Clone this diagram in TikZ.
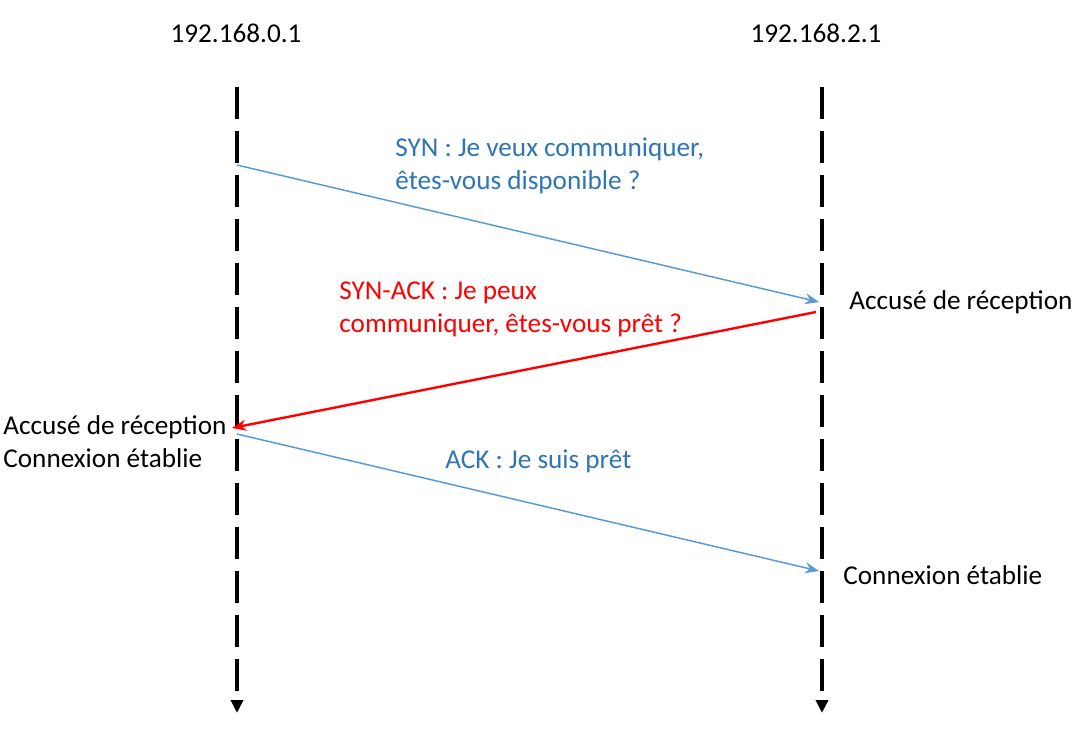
\documentclass[tikz,border=0pt]{standalone}
\usepackage{fontspec}
\setmainfont{Carlito}
\usetikzlibrary{arrows.meta}

\begin{document}
\begin{tikzpicture}[
  x=0.5pt,y=-0.5pt,
  font=\fontsize{13.6}{16.5}\selectfont,
  host/.style={inner sep=0pt},
  lbl/.style={inner sep=0pt,anchor=west,align=left},
  lifeline/.style={line width=2pt,dash pattern=on 16pt off 6pt,
                   -{Triangle[length=6.5pt,width=6pt]}},
  msg/.style={line width=0.75pt,draw=synblue,-{Stealth[length=7pt,width=5.5pt]}},
  back/.style={msg,draw=red,line width=1.2pt},
]
\definecolor{synblue}{HTML}{5B9BD5}
\definecolor{synfont}{HTML}{2E75B6}
\useasboundingbox (0,0) rectangle (1084,735);

% ===== hosts and lifelines =====
\node[host] (cli) at (236,33) {192.168.0.1};
\node[host] (srv) at (816,33) {192.168.2.1};
\coordinate (clitop) at (237,87);  \coordinate (clibot) at (237,713);
\coordinate (srvtop) at (822,87);  \coordinate (srvbot) at (822,713);
\draw[lifeline] (clitop) -- (clibot);
\draw[lifeline] (srvtop) -- (srvbot);

% ===== handshake =====
\coordinate (syn0) at (237,165);  \coordinate (syn1) at (819,302);
\coordinate (sa0) at (816,312);   \coordinate (sa1) at (232,428);
\coordinate (ack0) at (237,434);  \coordinate (ack1) at (819,571);
\draw[msg] (syn0) -- (syn1);
\draw[back] (sa0) -- (sa1);
\draw[msg] (ack0) -- (ack1);

\node[lbl,text=synfont] (synlbl) at (395,166) {SYN : Je veux communiquer,\\êtes-vous disponible ?};
\node[lbl,text=red] (salbl) at (339,309) {SYN-ACK : Je peux\\communiquer, êtes-vous prêt ?};
\node[lbl,text=synfont] (acklbl) at (445,461) {ACK : Je suis prêt};

% states
\node[lbl] (srvrx) at (849,302) {Accusé de réception};
\node[lbl] (clirx) at (3,442) {Accusé de réception\\Connexion établie};
\node[lbl] (srvok) at (843,575) {Connexion établie};
\end{tikzpicture}
\end{document}
